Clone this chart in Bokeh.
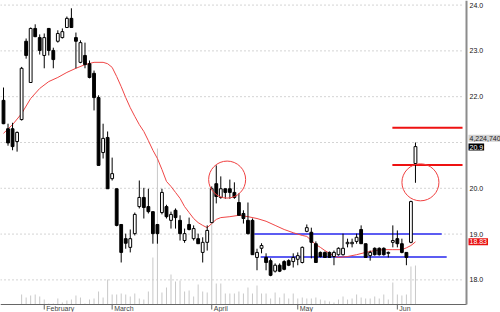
from bokeh.plotting import figure
from bokeh.models import Range1d, ColumnDataSource
from bokeh.core.properties import value
from bokeh.embed import file_html
from bokeh.resources import INLINE

# ---------------- data ----------------
opens = [21.92, 21.30, 21.30, 21.02, 21.50, 23.21, 22.31, 23.49, 23.29, 22.90,
         23.49, 23.01, 23.21, 23.29, 23.51, 23.71, 23.29, 22.75, 22.90, 22.72,
         22.51, 21.98, 20.78, 21.11, 20.21, 19.99, 19.21, 18.90, 18.71, 19.01,
         19.60, 19.80, 19.60, 19.49, 19.21, 19.47, 19.60, 19.30, 19.52, 19.30,
         18.86, 19.21, 18.90, 18.90, 18.60, 18.82, 19.25, 20.10, 19.80, 19.99,
         19.99, 19.91, 19.69, 19.45, 19.30, 19.30, 18.49, 18.69, 18.49, 18.42,
         18.19, 18.32, 18.40, 18.42, 18.40, 18.45, 18.38, 19.06, 19.04, 18.79,
         18.60, 18.60, 18.60, 18.51, 18.55, 18.55, 18.79, 18.79, 18.84, 19.10,
         18.79, 18.53, 18.69, 18.69, 18.69, 18.58, 18.82, 18.90, 18.79, 18.60,
         18.82, 20.54]
highs = [22.20, 21.41, 21.43, 21.24, 22.65, 23.27, 23.51, 23.58, 23.36, 23.38,
         23.50, 23.07, 23.45, 23.49, 23.75, 23.93, 23.40, 23.23, 23.18, 22.79,
         22.57, 22.03, 21.41, 21.24, 20.67, 19.99, 19.21, 19.01, 19.10, 19.47,
         20.17, 20.01, 19.99, 19.49, 19.21, 19.99, 19.64, 19.49, 19.56, 19.41,
         19.12, 19.36, 19.19, 19.01, 18.93, 19.19, 20.04, 20.50, 20.26, 19.99,
         20.19, 20.13, 19.89, 19.52, 19.69, 19.34, 18.68, 18.80, 18.58, 18.47,
         18.36, 18.36, 18.43, 18.45, 18.58, 18.60, 18.73, 19.21, 19.14, 18.84,
         18.62, 18.62, 18.62, 18.64, 18.71, 19.01, 18.90, 18.90, 19.01, 19.19,
         18.79, 18.64, 18.71, 18.71, 18.71, 18.62, 19.19, 19.08, 18.90, 18.60,
         19.73, 21.00]
lows = [21.40, 20.93, 20.83, 20.80, 21.48, 22.83, 22.30, 23.30, 22.92, 22.62,
        22.90, 22.62, 23.18, 23.27, 23.50, 23.50, 22.62, 22.73, 22.62, 22.40,
        21.70, 20.50, 20.65, 19.99, 20.17, 19.17, 18.38, 18.68, 18.60, 18.97,
        19.56, 19.34, 19.45, 18.79, 18.79, 19.43, 19.34, 19.12, 19.12, 18.86,
        18.81, 19.08, 18.86, 18.79, 18.38, 18.64, 19.25, 19.67, 19.77, 19.77,
        19.77, 19.77, 19.41, 19.23, 18.99, 18.55, 18.21, 18.58, 18.21, 18.08,
        18.16, 18.17, 18.21, 18.30, 18.27, 18.32, 18.36, 19.04, 18.47, 18.38,
        18.49, 18.49, 18.49, 18.32, 18.53, 18.53, 18.71, 18.71, 18.79, 18.79,
        18.49, 18.42, 18.53, 18.53, 18.53, 18.49, 18.71, 18.71, 18.58, 18.32,
        18.80, 20.12]
closes = [21.41, 20.99, 20.91, 21.22, 22.62, 22.90, 23.49, 23.31, 23.01, 23.29,
          23.01, 22.81, 23.38, 23.42, 23.71, 23.51, 23.21, 23.18, 22.70, 22.42,
          21.98, 20.50, 21.09, 19.99, 20.32, 19.19, 18.60, 18.80, 18.90, 19.43,
          19.80, 19.58, 19.49, 19.01, 19.01, 19.91, 19.38, 19.43, 19.36, 19.01,
          19.01, 19.10, 19.12, 18.79, 18.82, 19.08, 19.99, 19.82, 19.99, 19.91,
          19.91, 19.80, 19.41, 19.34, 19.01, 18.55, 18.60, 18.75, 18.38, 18.10,
          18.32, 18.19, 18.23, 18.32, 18.49, 18.53, 18.71, 19.14, 18.82, 18.38,
          18.51, 18.49, 18.49, 18.60, 18.69, 18.69, 18.82, 18.82, 18.93, 18.79,
          18.49, 18.60, 18.55, 18.55, 18.55, 18.60, 18.86, 18.79, 18.60, 18.49,
          19.71, 20.91]
volume_m = [0.05, 0.05, 0.05, 0.05, 1.08, 0.76, 0.97, 1.08, 0.87, 0.54,
            0.11, 0.11, 0.65, 0.22, 0.43, 0.54, 0.97, 0.76, 0.11, 0.54,
            0.65, 1.41, 0.76, 2.71, 1.08, 1.08, 1.19, 1.08, 0.87, 1.19,
            0.65, 0.54, 1.41, 5.09, 16.9, 1.30, 1.84, 3.25, 2.49, 2.60,
            1.41, 1.52, 0.87, 2.17, 1.41, 1.30, 8.88, 2.27, 2.27, 1.19,
            1.19, 1.19, 1.41, 1.19, 1.84, 1.19, 2.06, 1.19, 1.19, 0.65,
            1.30, 0.76, 1.19, 0.65, 1.19, 0.65, 0.76, 0.65, 0.65, 0.76,
            0.54, 0.43, 0.32, 0.22, 0.54, 0.87, 0.54, 0.65, 1.08, 0.76,
            0.65, 0.65, 0.87, 0.65, 1.08, 0.54, 2.38, 1.08, 0.97, 1.08,
            4.12, 4.22]
ma_idx = [0, 2, 4, 6, 8, 10, 12, 14, 16, 18, 20, 22, 23, 24, 25, 26, 27, 28, 29,
          30, 31, 32, 33, 34, 35, 36, 37, 38, 39, 40, 41, 42, 43, 44, 45, 46, 47,
          48, 50, 52, 54, 56, 58, 60, 62, 64, 66, 67, 68, 69, 70, 71, 72, 73, 74,
          76, 78, 80, 82, 84, 86, 88, 89, 90, 91]
ma_val = [21.20, 21.39, 21.63, 21.96, 22.18, 22.33, 22.42, 22.53, 22.62, 22.70,
          22.75, 22.75, 22.72, 22.64, 22.44, 22.22, 21.98, 21.76, 21.57, 21.39,
          21.24, 21.04, 20.83, 20.65, 20.41, 20.15, 20.04, 19.91, 19.78, 19.60,
          19.47, 19.34, 19.25, 19.19, 19.14, 19.23, 19.32, 19.36, 19.38, 19.41,
          19.38, 19.34, 19.28, 19.19, 19.10, 19.03, 18.97, 18.95, 18.86, 18.77,
          18.71, 18.64, 18.58, 18.52, 18.49, 18.51, 18.55, 18.60, 18.64, 18.66,
          18.66, 18.66, 18.70, 18.75, 18.83]
month_ticks = [9, 24, 46, 65, 87]
month_labels = ["February", "March", "April", "May", "Jun"]
price_grid = [18.0, 19.0, 20.0, 21.0, 22.0, 23.0, 24.0]
price_label_values = [18.0, 19.0, 20.0, 22.0, 23.0, 24.0]   # 21.0 is hidden by the 20.9 flag
blue_levels = [19.0, 18.5]
blue_start = [55.4, 56.8]
blue_end = [96.8, 97.9]
red_levels = [21.32, 20.51]
red_start = [85.9, 85.9]
red_end = [101.4, 101.4]
circle_x = [49.4, 92.1]
circle_y = [20.19, 20.13]
value_texts = ["4,224,740", "20.9", "18.83"]
value_levels = [21.09, 20.90, 18.83]

# ---------------- figure ----------------
PXI = 4.527                    # pixels per trading day
X0 = -3 / PXI
X1 = X0 + 500 / PXI
AX = X0 + 466 / PXI            # price scale line (right edge of the chart area)
GRID_END = X0 + 462 / PXI
PX = 4.2247 / 39               # volume (millions) per pixel

p = figure(width=500, height=312, output_backend="svg", toolbar_location=None,
           x_range=Range1d(X0, X1), y_range=Range1d(17.288, 24.10),
           x_axis_location=None, y_axis_location=None,
           min_border_left=0, min_border_top=0, min_border_right=0, min_border_bottom=0)
p.outline_line_color = None
p.background_fill_color = "white"
p.border_fill_color = "white"
p.grid.visible = False
p.extra_y_ranges = {"vol": Range1d(-8 * PX, 304 * PX)}

FONT = value("Liberation Sans")

# dotted price grid
n = len(price_grid)
p.segment(x0=[X0] * n, y0=price_grid, x1=[GRID_END] * n, y1=price_grid,
          line_color="#a8a8a8", line_dash="1 3", line_width=1)

idx = list(range(len(opens)))

# volume
vsrc = ColumnDataSource(dict(x=idx, v=volume_m))
p.vbar(x="x", top="v", bottom=0, width=0.22, source=vsrc, y_range_name="vol",
       fill_color="#c8c8c8", line_color=None)

# time axis: base line, month ticks and month names
p.segment(x0=[X0], y0=[0], x1=[AX], y1=[0], y_range_name="vol",
          line_color="#666666", line_width=1)
m = len(month_ticks)
p.segment(x0=month_ticks, y0=[0] * m, x1=month_ticks, y1=[-5 * PX] * m,
          y_range_name="vol", line_color="#666666", line_width=1)
p.text(x=month_ticks, y=[0] * m, text=month_labels, y_range_name="vol",
       text_align="left", text_baseline="top", x_offset=2, y_offset=0,
       text_font=FONT, text_font_size="7px", text_color="#444444")

# price scale: line and labels
p.segment(x0=[AX], y0=[0], x1=[AX], y1=[304 * PX], y_range_name="vol",
          line_color="#8c8c8c", line_width=2)
k = len(price_label_values)
p.text(x=[AX] * k, y=price_label_values, text=["%.1f" % v for v in price_label_values],
       text_align="left", text_baseline="middle", x_offset=3,
       text_font=FONT, text_font_size="7px", text_color="#111111")

# level lines
for lv, a, b in zip(blue_levels, blue_start, blue_end):
    p.line([a, b], [lv, lv], line_color="#5c5cf2", line_width=2)
for lv, a, b in zip(red_levels, red_start, red_end):
    p.line([a, b], [lv, lv], line_color="#ee1111", line_width=2)

# moving average
p.line(ma_idx, ma_val, line_color="#f04646", line_width=1)

# candles
src = ColumnDataSource(dict(x=idx, h=highs, l=lows))
p.segment(x0="x", y0="h", x1="x", y1="l", source=src, line_color="black", line_width=1)
up = [i for i in idx if closes[i] >= opens[i]]
dn = [i for i in idx if closes[i] < opens[i]]
inc = ColumnDataSource(dict(x=up, top=[closes[i] for i in up], bot=[opens[i] for i in up]))
dec = ColumnDataSource(dict(x=dn, top=[opens[i] for i in dn], bot=[closes[i] for i in dn]))
p.vbar(x="x", top="top", bottom="bot", width=0.62, source=inc,
       fill_color="white", line_color="black", line_width=1)
p.vbar(x="x", top="top", bottom="bot", width=0.62, source=dec,
       fill_color="black", line_color="black", line_width=1)

# circles
p.scatter(circle_x, circle_y, marker="circle", size=37, fill_color=None,
          line_color="#f04040", line_width=1)

# value flags on the price scale (volume, last close, moving average)
styles = [("#d2d2d2", "#222222"), ("#000000", "#ffffff"), ("#e81010", "#ffffff")]
for txt, yv, (bg, fg) in zip(value_texts, value_levels, styles):
    p.text(x=[AX], y=[yv], text=[txt], text_align="left", text_baseline="middle",
           x_offset=2, text_font=FONT, text_font_size="7px", text_color=fg,
           background_fill_color=bg, padding=1)

open("out.html", "w").write(file_html(p, INLINE))
